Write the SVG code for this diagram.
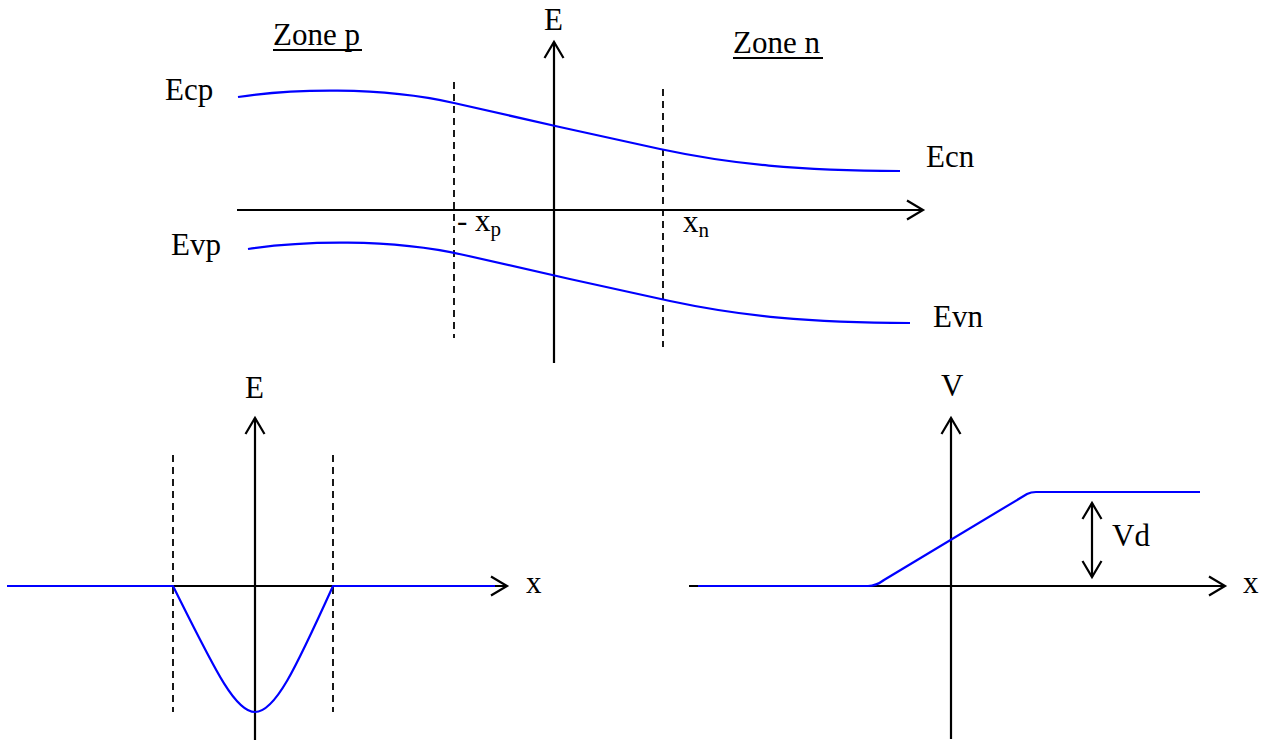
<svg xmlns="http://www.w3.org/2000/svg" width="1266" height="742" viewBox="0 0 1266 742">
<style>
  .ax { stroke:#000; stroke-width:2.2; fill:none; }
  .dash { stroke:#000; stroke-width:1.8; fill:none; stroke-dasharray:7 5; }
  .band { stroke:#0000ff; stroke-width:2.2; fill:none; }
  text { font-family:"Liberation Serif","Times New Roman",serif; font-size:31px; fill:#000; }
  .sub { font-size:21px; }
  .ul { stroke:#000; stroke-width:1.8; }
</style>
<defs>
  <marker id="arr" markerUnits="userSpaceOnUse" markerWidth="24" markerHeight="24" viewBox="-20 -12 24 24" refX="0" refY="0" orient="auto-start-reverse">
    <path d="M-16,-9.5 L0,0 L-16,9.5" fill="none" stroke="#000" stroke-width="2.2"/>
  </marker>
</defs>
<rect width="1266" height="742" fill="#fff"/>

<g id="connectors">
  <line class="ax" x1="237" y1="210" x2="923" y2="210" marker-end="url(#arr)"/>
  <line class="ax" x1="554" y1="363" x2="554" y2="42" marker-end="url(#arr)"/>
  <line class="dash" x1="454" y1="82" x2="454" y2="338"/>
  <line class="dash" x1="663" y1="89" x2="663" y2="347"/>

  <line class="ax" x1="7" y1="586" x2="507" y2="586" marker-end="url(#arr)"/>
  <line class="ax" x1="255" y1="740" x2="255" y2="418" marker-end="url(#arr)"/>
  <line class="dash" x1="173" y1="455" x2="173" y2="712"/>
  <line class="dash" x1="333" y1="455" x2="333" y2="712"/>

  <line class="ax" x1="689" y1="586" x2="1225" y2="586" marker-end="url(#arr)"/>
  <line class="ax" x1="951" y1="739" x2="951" y2="418" marker-end="url(#arr)"/>
  <line class="ax" x1="1092" y1="503" x2="1092" y2="577" marker-start="url(#arr)" marker-end="url(#arr)"/>
</g>

<g id="ecp-curve">
  <path class="band" d="M238,97 C290,89 380,86 454,103 C524,119 590,134 660,149 C730,164 800,171 900,171"/>
</g>
<g id="evp-curve">
  <path class="band" transform="translate(10,152)" d="M238,97 C290,89 380,86 454,103 C524,119 590,134 660,149 C730,164 800,171 900,171"/>
</g>

<g id="field-curve">
  <path class="band" d="M7,586 H173 C215,670 235,712 255,712 C275,712 295,670 333,586 H495"/>
</g>
<g id="potential-curve">
  <path class="band" d="M698,586 H868 Q876,586 884,580 L1027,494 Q1031,492 1036,492 H1200"/>
</g>

<g id="label-E-top"><text x="544" y="30">E</text></g>
<g id="label-zone-p">
  <text x="273" y="45">Zone p</text>
  <line class="ul" x1="273" y1="50" x2="362" y2="50"/>
</g>
<g id="label-zone-n">
  <text x="733" y="53">Zone n</text>
  <line class="ul" x1="733" y1="58" x2="823" y2="58"/>
</g>
<g id="label-ecp"><text x="165" y="100">Ecp</text></g>
<g id="label-evp"><text x="171" y="255">Evp</text></g>
<g id="label-ecn"><text x="926" y="167">Ecn</text></g>
<g id="label-evn"><text x="933" y="327">Evn</text></g>
<g id="label-xp"><text x="457" y="231">- x<tspan class="sub" dy="5">p</tspan></text></g>
<g id="label-xn"><text x="683" y="232">x<tspan class="sub" dy="5">n</tspan></text></g>

<g id="label-E-bottom"><text x="245" y="398">E</text></g>
<g id="label-x-left"><text x="526" y="593">x</text></g>
<g id="label-V"><text x="941" y="396">V</text></g>
<g id="label-x-right"><text x="1243" y="593">x</text></g>
<g id="label-Vd"><text x="1112" y="546">Vd</text></g>
</svg>
